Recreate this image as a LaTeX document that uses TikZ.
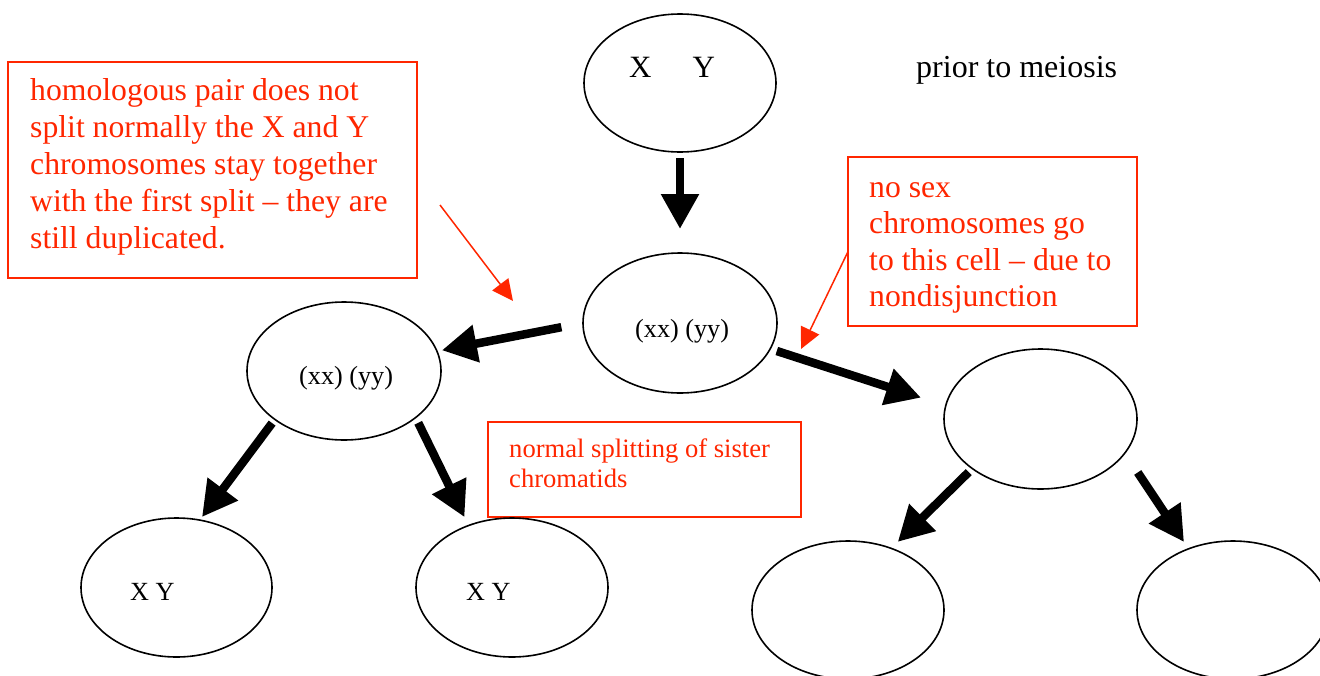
\documentclass[tikz,border=0pt]{standalone}
\usepackage{fontspec}
\setmainfont{Liberation Serif}
\usetikzlibrary{shapes.geometric,arrows.meta}
\definecolor{annot}{RGB}{255,38,0}
\begin{document}
\begin{tikzpicture}[x=1pt,y=-1pt,
  cell/.style={draw=black, line width=1.6pt, ellipse, inner sep=0pt, outer sep=0pt},
  bigarrow/.style={draw=black, line width=8.5pt, -{Triangle[length=35pt,width=36pt]}},
  note/.style={draw=annot, line width=1.5pt, rectangle, inner sep=0pt, outer sep=0pt, anchor=north west},
  notetext/.style={text=annot, anchor=base west, inner sep=0pt, align=flush left, font=\fontsize{31.7}{37}\selectfont},
  smallnote/.style={text=annot, anchor=base west, inner sep=0pt, align=flush left, font=\fontsize{26.6}{30}\selectfont},
  pointer/.style={draw=annot, line width=1.5pt, -{Triangle[length=21pt,width=20pt]}},
  celltext/.style={anchor=base west, inner sep=0pt, font=\fontsize{26.2}{30}\selectfont},
  bigtext/.style={anchor=base west, inner sep=0pt, font=\fontsize{31.7}{37}\selectfont}]
\useasboundingbox (0,0) rectangle (1320,675);
\clip (0,0) rectangle (1320,675);

% annotation boxes
\node[note, minimum width=409pt, minimum height=216pt] (box1) at (8,62) {};
\node[notetext, text width=385pt] (t1) at (30,100) {homologous pair does not\\split normally the X and Y\\chromosomes stay together\\with the first split – they are\\still duplicated.};
\node[note, minimum width=289pt, minimum height=169pt] (box2) at (848,157) {};
\node[notetext, text width=265pt, font=\fontsize{31.7}{36.5}\selectfont] (t2) at (869,197) {no sex\\chromosomes go\\to this cell – due to\\nondisjunction};
\node[note, minimum width=313pt, minimum height=95pt] (box3) at (488,422) {};
\node[smallnote, text width=290pt] (t3) at (509,457) {normal splitting of sister\\chromatids};

% cells
\node[cell, minimum width=192pt, minimum height=138pt] (top) at (680,83) {};
\node[cell, minimum width=194pt, minimum height=140pt] (mid) at (680,323) {};
\node[cell, minimum width=194pt, minimum height=138pt] (lmid) at (344,371) {};
\node[cell, minimum width=193pt, minimum height=140pt] (rmid) at (1040.5,419) {};
\node[cell, minimum width=191pt, minimum height=139pt] (bl1) at (176.5,587.5) {};
\node[cell, minimum width=192pt, minimum height=139pt] (bl2) at (512,587.5) {};
\node[cell, minimum width=192pt, minimum height=138pt] (br1) at (848,610) {};
\node[cell, minimum width=192pt, minimum height=138pt] (br2) at (1233,610) {};

% texts
\node[bigtext, font=\fontsize{31}{37}\selectfont] (xy0) at (629,77) {X\hspace{41pt}Y};
\node[bigtext, font=\fontsize{32}{37}\selectfont] (prior) at (916,77) {prior to meiosis};
\node[celltext] (c1) at (635,337) {(xx) (yy)};
\node[celltext] (c2) at (299,384) {(xx) (yy)};
\node[celltext] (c3) at (130,600) {X Y};
\node[celltext] (c4) at (466,600) {X Y};

% division arrows
\draw[bigarrow, shorten <=6pt, shorten >=24pt] (top.south) -- (mid.north);
\draw[bigarrow, shorten <=22pt, shorten >=5pt] (mid.180) -- (lmid.12);
\draw[bigarrow, shorten <=7pt, shorten >=26pt] (mid.344) -- (rmid.172);
\draw[bigarrow, shorten <=4.6pt, shorten >=3.8pt] (lmid.215) -- (bl1.71);
\draw[bigarrow, shorten <=5.9pt, shorten >=9.3pt] (lmid.327) -- (bl2.125);
\draw[bigarrow, shorten <=5.1pt, shorten >=9.2pt] (rmid.216) -- (br1.55);
\draw[bigarrow, shorten <=23.3pt, shorten >=8.2pt] (rmid.338) -- (br2.126);

% annotation pointers
\coordinate (p1s) at (440,205);
\coordinate (p1e) at (513,301);
\draw[pointer] (p1s) -- (p1e);
\coordinate (p2e) at (801,349);
\draw[pointer] (box2.184) -- (p2e);
\end{tikzpicture}
\end{document}
